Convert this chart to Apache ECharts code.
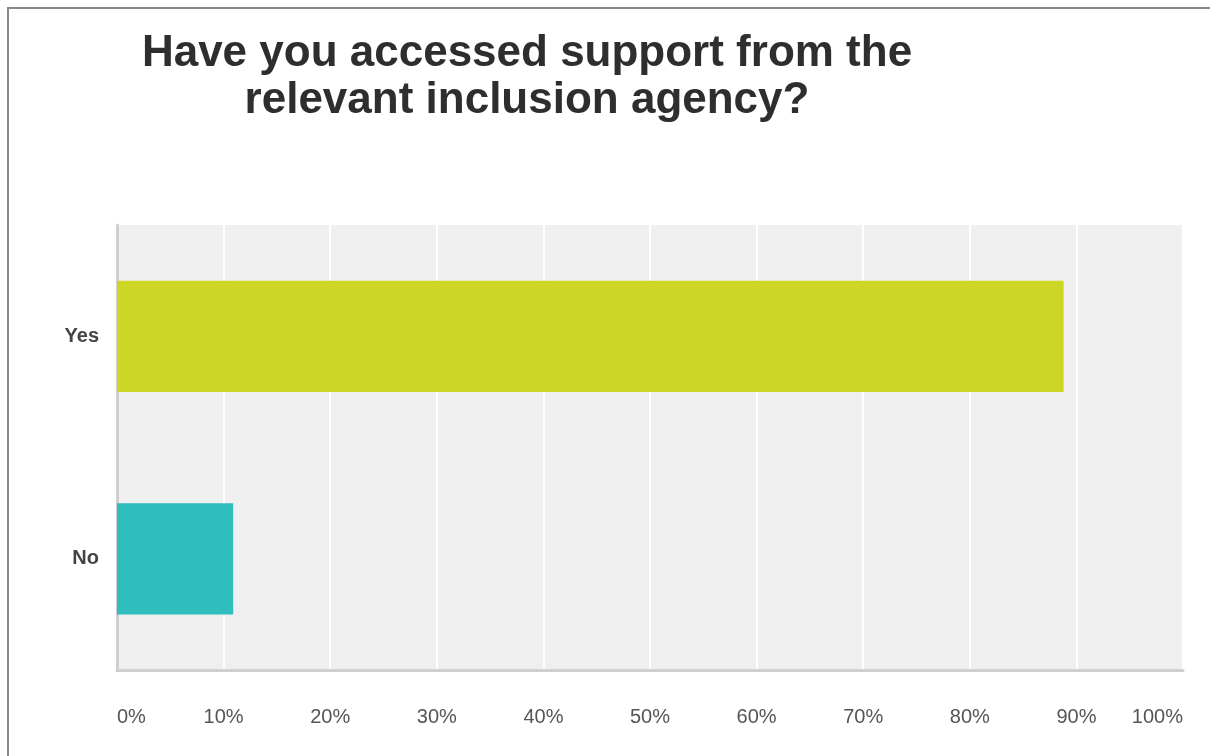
<!DOCTYPE html>
<html>
<head>
<meta charset="utf-8">
<script src="https://cdn.jsdelivr.net/npm/echarts@6/dist/echarts.min.js"></script>
<style>
  html, body { margin: 0; padding: 0; background: #ffffff; }
  #chart { width: 1210px; height: 756px; }
</style>
</head>
<body>
<div id="chart"></div>
<script>
const titleText = 'Have you accessed support from the\nrelevant inclusion agency?';
const categories = ['Yes', 'No'];
const values = [88.8, 10.9];
const barColors = ['#CDD525', '#2FBDBD'];
const xTickMin = 0;
const xTickMax = 100;
const xTickStep = 10;

const chart = echarts.init(document.getElementById('chart'), null, { renderer: 'canvas' });

const option = {
  backgroundColor: '#ffffff',
  animation: false,
  title: {
    text: titleText,
    left: 522,
    textAlign: 'center',
    top: 25,
    textStyle: {
      fontFamily: 'Liberation Sans, Arial, sans-serif',
      fontSize: 44,
      fontWeight: 'bold',
      lineHeight: 47,
      color: '#2e2e2e'
    }
  },
  graphic: [
    { type: 'line', shape: { x1: 7, y1: 8, x2: 1210, y2: 8 }, style: { stroke: '#888888', lineWidth: 2 } },
    { type: 'line', shape: { x1: 8, y1: 8, x2: 8, y2: 756 }, style: { stroke: '#888888', lineWidth: 2 } }
  ],
  grid: {
    left: 117,
    right: 27,
    top: 225,
    bottom: 86,
    show: true,
    backgroundColor: '#efefef',
    borderWidth: 0
  },
  xAxis: {
    type: 'value',
    min: xTickMin,
    max: xTickMax,
    interval: xTickStep,
    axisLine: { show: true, lineStyle: { color: '#cfcfcf', width: 3 } },
    axisTick: { show: false },
    splitLine: { show: true, lineStyle: { color: '#ffffff', width: 2 } },
    axisLabel: {
      formatter: '{value}%',
      margin: 37,
      fontFamily: 'Liberation Sans, Arial, sans-serif',
      fontSize: 20,
      color: '#555555',
      alignMinLabel: 'left',
      alignMaxLabel: 'right'
    }
  },
  yAxis: {
    type: 'category',
    data: categories,
    inverse: true,
    axisLine: { show: true, lineStyle: { color: '#cfcfcf', width: 3 } },
    axisTick: { show: false },
    splitLine: { show: false },
    axisLabel: {
      margin: 18,
      fontFamily: 'Liberation Sans, Arial, sans-serif',
      fontSize: 20,
      fontWeight: 'bold',
      color: '#444444',
      padding: [6, 0, 0, 0]
    }
  },
  series: [{
    type: 'bar',
    barWidth: '50%',
    data: values.map((v, i) => ({ value: v, itemStyle: { color: barColors[i] } }))
  }]
};

chart.setOption(option);
</script>
</body>
</html>
